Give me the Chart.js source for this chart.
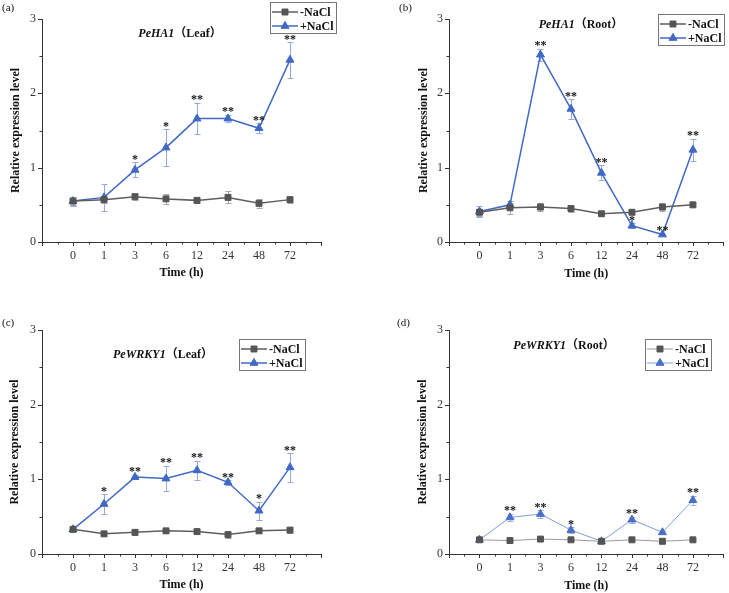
<!DOCTYPE html>
<html><head><meta charset="utf-8">
<script src="https://cdn.jsdelivr.net/npm/chart.js@4.4.0/dist/chart.umd.min.js"></script>
<style>
html,body{margin:0;padding:0;background:#fff;}
#wrap{position:relative;width:729px;height:593px;overflow:hidden;background:#fff;}
canvas{position:absolute;}
</style></head><body><div id="wrap">
<canvas id="ca"></canvas><canvas id="cb"></canvas><canvas id="cc"></canvas><canvas id="cd"></canvas>
</div>
<script>
// ---------- data ----------
const categories = ['0','1','3','6','12','24','48','72'];
const yTickLabels = ['0','1','2','3'];
const seriesNames = ['-NaCl','+NaCl'];

const a_minus    = [0.55,0.57,0.61,0.58,0.56,0.60,0.52,0.57];
const a_minusErr = [0.06,0.05,0.04,0.07,0.03,0.08,0.06,0.04];
const a_plus     = [0.55,0.60,0.97,1.27,1.66,1.66,1.53,2.45];
const a_plusErr  = [0.05,0.18,0.10,0.25,0.21,0.05,0.07,0.24];
const a_stars    = ['','','*','*','**','**','**','**'];

const b_minus    = [0.40,0.46,0.47,0.45,0.38,0.40,0.47,0.50];
const b_minusErr = [0.05,0.09,0.05,0.04,0.03,0.02,0.05,0.02];
const b_plus     = [0.41,0.50,2.52,1.79,0.93,0.22,0.10,1.24];
const b_plusErr  = [0.07,0.03,0.08,0.13,0.10,0.03,0.01,0.15];
const b_stars    = ['','','**','**','**','*','**','**'];

const c_minus    = [0.33,0.27,0.29,0.31,0.30,0.26,0.31,0.32];
const c_minusErr = [0.02,0.03,0.04,0.03,0.03,0.04,0.03,0.04];
const c_plus     = [0.33,0.67,1.03,1.01,1.12,0.96,0.58,1.16];
const c_plusErr  = [0.02,0.13,0.03,0.17,0.13,0.03,0.12,0.19];
const c_stars    = ['','*','**','**','**','**','*','**'];

const d_minus    = [0.19,0.18,0.20,0.19,0.17,0.19,0.17,0.19];
const d_minusErr = [0.01,0.01,0.02,0.01,0.01,0.01,0.01,0.01];
const d_plus     = [0.19,0.49,0.535,0.32,0.17,0.46,0.29,0.72];
const d_plusErr  = [0.02,0.05,0.05,0.04,0.02,0.04,0.02,0.06];
const d_stars    = ['','**','**','*','','**','','**'];

// ---------- styles / layout ----------
const SERIF = '"Liberation Serif","Times New Roman","DejaVu Serif","Noto Sans CJK SC",serif';
const CJK = '"Liberation Serif","Noto Sans CJK SC",serif';
const AXIS = '#333333';

const panels = [
  {id:'ca', label:'(a)', gene:'PeHA1', tissue:'（Leaf）',
   cx:0, cy:0, w:364, h:296, L:42, T:19, R:321, B:242,
   yTitleX:16, xTitleY:273, titleX:180, titleY:34, labX:2, labY:8,
   legX:270, legY:2, thin:false,
   minus:a_minus, minusErr:a_minusErr, plus:a_plus, plusErr:a_plusErr, stars:a_stars},
  {id:'cb', label:'(b)', gene:'PeHA1', tissue:'（Root）',
   cx:364, cy:0, w:365, h:296, L:449, T:19, R:727, B:242,
   yTitleX:424, xTitleY:274, titleX:581, titleY:25, labX:399, labY:8,
   legX:658, legY:14, thin:false,
   minus:b_minus, minusErr:b_minusErr, plus:b_plus, plusErr:b_plusErr, stars:b_stars},
  {id:'cc', label:'(c)', gene:'PeWRKY1', tissue:'（Leaf）',
   cx:0, cy:296, w:364, h:297, L:42, T:330, R:321, B:554,
   yTitleX:15, xTitleY:585, titleX:163, titleY:355, labX:2, labY:323,
   legX:239, legY:339, thin:false,
   minus:c_minus, minusErr:c_minusErr, plus:c_plus, plusErr:c_plusErr, stars:c_stars},
  {id:'cd', label:'(d)', gene:'PeWRKY1', tissue:'（Root）',
   cx:364, cy:296, w:365, h:297, L:449, T:330, R:727, B:554,
   yTitleX:423, xTitleY:586, titleX:564, titleY:346, labX:397, labY:323,
   legX:645, legY:339, thin:true,
   minus:d_minus, minusErr:d_minusErr, plus:d_plus, plusErr:d_plusErr, stars:d_stars},
];

function styleFor(p){
  if (p.thin) return {
    gLine:'#9a9a9a', gMark:'#555555', gErr:'#b0b0b0', bLine:'#7f9ddb', bMark:'#4a6fc6', bErr:'#9db3e3', lw:1
  };
  return {gLine:'#5e5e5e', gMark:'#555555', gErr:'#a8a8a8', bLine:'#4169c4', bMark:'#4169c4', bErr:'#93abe0', lw:1.5};
}

const panelPlugin = {
  id:'panelDecor',
  beforeDatasetsDraw(chart){
    const p = chart.options.plugins.panelDecor.p;
    const st = styleFor(p);
    const ctx = chart.ctx, ys = chart.scales.y;
    const sets = [[p.minus,p.minusErr,st.gErr],[p.plus,p.plusErr,st.bErr]];
    ctx.save();
    sets.forEach((s,di)=>{
      const meta = chart.getDatasetMeta(di);
      ctx.strokeStyle = s[2]; ctx.lineWidth = 1;
      s[0].forEach((v,i)=>{
        const x = Math.round(meta.data[i].x) + 0.5;
        const yt = Math.round(ys.getPixelForValue(v + s[1][i])) + 0.5;
        const yb = Math.round(ys.getPixelForValue(v - s[1][i])) + 0.5;
        ctx.beginPath();
        ctx.moveTo(x, yt); ctx.lineTo(x, yb);
        ctx.moveTo(x-3, yt); ctx.lineTo(x+3, yt);
        ctx.moveTo(x-3, yb); ctx.lineTo(x+3, yb);
        ctx.stroke();
      });
    });
    ctx.restore();
  },
  afterDraw(chart){
    const p = chart.options.plugins.panelDecor.p;
    const st = styleFor(p);
    const ctx = chart.ctx, xs = chart.scales.x, ys = chart.scales.y;
    ctx.save();
    // tick marks
    ctx.strokeStyle = AXIS; ctx.lineWidth = 1;
    ctx.beginPath();
    xs.ticks.forEach(t=>{
      const px = Math.round(xs.getPixelForValue(t.value)) + 0.5;
      const len = Number.isInteger(t.value) ? 4 : 2.5;
      ctx.moveTo(px, xs.top); ctx.lineTo(px, xs.top + len);
    });
    ys.ticks.forEach(t=>{
      const py = Math.round(ys.getPixelForValue(t.value)) + 0.5;
      const len = Number.isInteger(t.value) ? 4 : 2.5;
      ctx.moveTo(ys.right, py); ctx.lineTo(ys.right - len, py);
    });
    ctx.stroke();
    // stars
    const meta = chart.getDatasetMeta(1);
    ctx.fillStyle = '#111';
    ctx.font = 'bold 12px ' + SERIF;
    ctx.textAlign = 'center'; ctx.textBaseline = 'alphabetic';
    p.stars.forEach((s,i)=>{
      if (!s) return;
      const x = meta.data[i].x;
      const yt = ys.getPixelForValue(p.plus[i] + p.plusErr[i]);
      ctx.fillText(s, x, yt + 0.5);
    });
    // panel label
    ctx.font = '11px ' + SERIF;
    ctx.textAlign = 'left'; ctx.textBaseline = 'middle';
    ctx.fillText(p.label, p.labX - p.cx, p.labY - p.cy);
    // title
    ctx.textBaseline = 'middle';
    const f1 = 'italic bold 12px ' + SERIF, f2 = 'bold 12px ' + CJK;
    ctx.font = f1; const w1 = ctx.measureText(p.gene).width;
    ctx.font = f2; const w2 = ctx.measureText(p.tissue).width;
    let tx = p.titleX - p.cx - (w1 + w2)/2, ty = p.titleY - p.cy;
    ctx.font = f1; ctx.fillText(p.gene, tx, ty);
    ctx.font = f2; ctx.fillText(p.tissue, tx + w1, ty);
    // legend
    const lx = p.legX - p.cx, ly = p.legY - p.cy;
    ctx.strokeStyle = '#777'; ctx.lineWidth = 1;
    ctx.strokeRect(Math.round(lx)+0.5, Math.round(ly)+0.5, 66, 31);
    const rows = [
      {name:seriesNames[0], line:st.gLine, mark:st.gMark, style:'rect', r:4.2},
      {name:seriesNames[1], line:st.bLine, mark:st.bMark, style:'triangle', r:4.6}
    ];
    rows.forEach((r,k)=>{
      const yy = ly + 10 + k*14;
      ctx.strokeStyle = r.line; ctx.lineWidth = st.lw;
      ctx.beginPath(); ctx.moveTo(lx+2, yy); ctx.lineTo(lx+28, yy); ctx.stroke();
      ctx.fillStyle = r.mark; ctx.strokeStyle = r.mark; ctx.lineWidth = 1;
      Chart.helpers.drawPoint(ctx, {pointStyle:r.style, radius:r.r, rotation:0, borderWidth:1}, lx+15, yy);
      ctx.fillStyle = '#111';
      ctx.font = 'bold 12px ' + SERIF;
      ctx.textAlign = 'left'; ctx.textBaseline = 'middle';
      ctx.fillText(r.name, lx + 30, yy + 0.5);
    });
    ctx.restore();
  }
};

function makeChart(p){
  const cv = document.getElementById(p.id);
  cv.width = p.w; cv.height = p.h;
  cv.style.left = p.cx + 'px'; cv.style.top = p.cy + 'px';
  cv.style.width = p.w + 'px'; cv.style.height = p.h + 'px';
  const st = styleFor(p);
  const L = p.L - p.cx, T = p.T - p.cy, R = p.R - p.cx, B = p.B - p.cy;
  const xTitlePad = (p.h - (p.xTitleY - p.cy)) - 7.2;
  const yTitlePad = (p.yTitleX - p.cx) - 7.2;
  new Chart(cv, {
    type:'line',
    data:{datasets:[
      {label:seriesNames[0], data:p.minus.map((v,i)=>({x:i,y:v})),
       borderColor:st.gLine, backgroundColor:st.gMark, borderWidth:st.lw,
       pointStyle:'rect', pointRadius:4.2, pointBackgroundColor:st.gMark, pointBorderColor:st.gMark,
       pointBorderWidth:1, tension:0, clip:false},
      {label:seriesNames[1], data:p.plus.map((v,i)=>({x:i,y:v})),
       borderColor:st.bLine, backgroundColor:st.bMark, borderWidth:st.lw,
       pointStyle:'triangle', pointRadius:4.6, pointBackgroundColor:st.bMark, pointBorderColor:st.bMark,
       pointBorderWidth:1, tension:0, clip:false}
    ]},
    options:{
      responsive:false, animation:false, devicePixelRatio:1,
      layout:{padding:{left:0, top:T, right:p.w - R, bottom:0}},
      plugins:{legend:{display:false}, tooltip:{enabled:false}, panelDecor:{p:p}},
      scales:{
        x:{type:'linear', min:-1, max:8,
           ticks:{stepSize:0.5, autoSkip:false, maxRotation:0, minRotation:0, padding:3,
                  color:AXIS, font:{family:SERIF, size:12},
                  callback:(v)=> (Number.isInteger(v) && v>=0 && v<categories.length) ? categories[v] : ''},
           grid:{display:true, drawOnChartArea:false, drawTicks:true, tickLength:4, tickColor:'transparent', color:'transparent'},
           border:{display:true, color:AXIS, width:1},
           title:{display:true, text:'Time (h)', color:'#111', font:{family:SERIF, size:12, weight:'bold'},
                  padding:{top:0, bottom:xTitlePad}},
           afterFit:(s)=>{ s.height = p.h - B; }},
        y:{type:'linear', min:0, max:3,
           ticks:{stepSize:0.5, padding:2, color:AXIS, font:{family:SERIF, size:12},
                  callback:(v)=> Number.isInteger(v) ? yTickLabels[v] : ''},
           grid:{display:true, drawOnChartArea:false, drawTicks:true, tickLength:4, tickColor:'transparent', color:'transparent'},
           border:{display:true, color:AXIS, width:1},
           title:{display:true, text:'Relative expression level', color:'#111', font:{family:SERIF, size:12, weight:'bold'},
                  padding:{top:yTitlePad, bottom:0}},
           afterFit:(s)=>{ s.width = L; }}
      }
    },
    plugins:[panelPlugin]
  });
}
panels.forEach(makeChart);
</script></body></html>
